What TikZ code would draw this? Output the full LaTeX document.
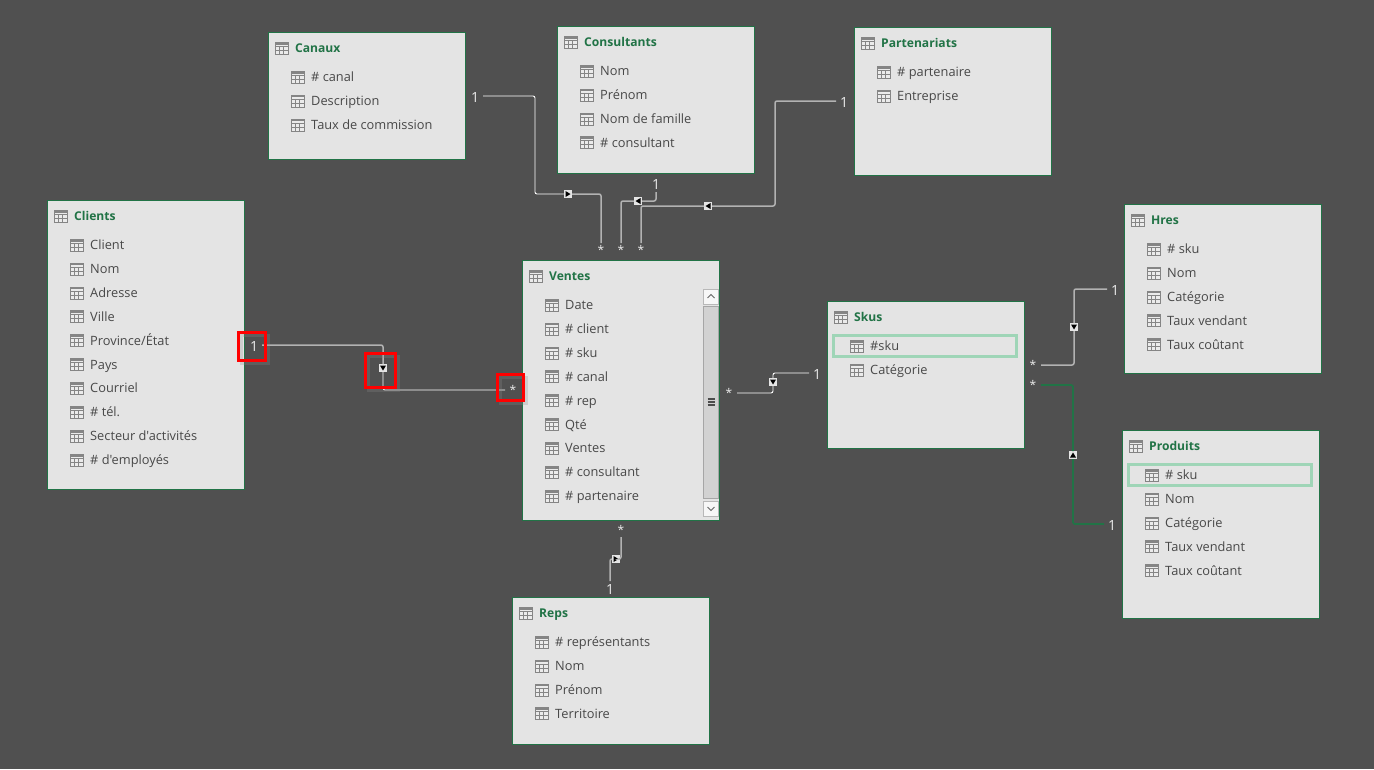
\documentclass[tikz,border=0pt]{standalone}
\usepackage{xcolor}
\usepackage{fontspec}
\setmainfont{Open Sans}
\newfontfamily\rowfont{Open Sans}
\usetikzlibrary{arrows.meta, positioning, shapes.geometric}

\definecolor{canvasgray}{HTML}{505050}
\definecolor{tablefill}{HTML}{E4E4E4}
\definecolor{excelgreen}{HTML}{217346}
\definecolor{keygreen}{HTML}{9FD5B7}
\definecolor{fieldtext}{HTML}{484848}
\definecolor{scrolltrack}{HTML}{D2D2D2}

% table frame, its title and its rows
\newcommand{\dbtable}[6]{
    \node[tablebox, minimum width=197pt, minimum height=#4pt+1pt] (#1) at (#2,#3) {};
    \node[tabletitle] (#1Title) at ([shift={(27,16)}]#1.north west) {#5};
    \foreach \fieldname [count=\i] in {#6} {
        \node[fieldrow] (#1Row\i) at ([shift={(43,{45+23.9*(\i-1)})}]#1.north west) {\fieldname};
    }
}

\begin{document}
\begin{tikzpicture}[
        x=1pt, y=-1pt,
        tablebox/.style={
            draw=excelgreen,
            line width=0.9pt,
            fill=tablefill,
            anchor=north west,
            xshift=-1pt,
            yshift=1pt,
            outer sep=0pt,
            inner sep=0pt
        },
        tabletitle/.style={
            anchor=west,
            inner sep=0pt,
            text=excelgreen,
            text height=12pt,
            text depth=3pt,
            font=\fontsize{12.1}{14}\selectfont\bfseries,
            append after command={(\tikzlastnode.west) pic {gridicon}}
        },
        fieldrow/.style={
            anchor=west,
            inner sep=0pt,
            text=fieldtext,
            text height=12pt,
            text depth=3pt,
            font=\fontsize{12.8}{14}\rowfont,
            append after command={(\tikzlastnode.west) pic {gridicon}}
        },
        gridicon/.pic={
            \fill[white!92!black] (-20,-6) rectangle (-7,6);
            \draw[black!48, line width=0.6pt] (-20,-6) rectangle (-7,6)
                (-20,-2) -- (-7,-2) (-20,2) -- (-7,2) (-15.7,-2) -- (-15.7,6) (-11.3,-2) -- (-11.3,6);
            \fill[black!48] (-20,-6) rectangle (-7,-3.5);
        },
        keyrow/.style={draw=keygreen, line width=3pt, minimum width=183pt, minimum height=21pt, inner sep=0pt},
        cardinal/.style={text=white!92!black, inner sep=0pt, outer sep=0pt, minimum width=16pt, minimum height=14pt,
            text height=13pt, text depth=0pt, font=\fontsize{14}{15}\selectfont},
        manycard/.style={cardinal, text height=9pt, font=\fontsize{12}{14}\selectfont},
        marker/.style={fill=white!90!black, inner sep=0pt, outer sep=0pt, minimum size=8pt,
            append after command={(\tikzlastnode.center) pic[rotate=#1] {markarrow}}},
        markarrow/.pic={\fill[black] (-3,-2.5) -- (3,-2.5) -- (0,2.5) -- cycle;},
        thinrel/.style={white, line width=0.9pt, rounded corners=2pt},
        thickrel/.style={white!70!black, line width=1.5pt, rounded corners=2pt},
        greenrel/.style={excelgreen, line width=1.8pt, rounded corners=2pt},
        redmark/.style={draw=red, line width=3pt, inner sep=0pt,
            preaction={draw=white!55!black, line width=3pt, opacity=0.25, transform canvas={shift={(3pt,-3pt)}}}},
        scrollbtn/.style={draw=black!28, fill=white!97!black, line width=0.9pt, inner sep=0pt, minimum width=15pt, minimum height=15pt},
        scrollmark/.style={black!60, line width=0.8pt}
    ]
    \fill[canvasgray] (0,0) rectangle (1374,769);

    \dbtable{clients}{48}{201}{288}{Clients}{Client,Nom,Adresse,Ville,Province/État,Pays,Courriel,\# tél.,Secteur d'activités,\# d'employés}
    \dbtable{canaux}{269}{33}{126}{Canaux}{\# canal,Description,Taux de commission}
    \dbtable{consultants}{558}{27}{146}{Consultants}{Nom,Prénom,Nom de famille,\# consultant}
    \dbtable{partenariats}{855}{28}{147}{Partenariats}{\# partenaire,Entreprise}
    \dbtable{ventes}{523}{261}{259}{Ventes}{Date,\# client,\# sku,\# canal,\# rep,Qté,Ventes,\# consultant,\# partenaire}
    \dbtable{hres}{1125}{205}{168}{Hres}{\# sku,Nom,Catégorie,Taux vendant,Taux coûtant}
    \dbtable{skus}{828}{302}{146}{Skus}{\#sku,Catégorie}
    \dbtable{produits}{1123}{431}{187}{Produits}{\# sku,Nom,Catégorie,Taux vendant,Taux coûtant}
    \dbtable{reps}{513}{598}{146}{Reps}{\# représentants,Nom,Prénom,Territoire}

    \node[keyrow] (skusKey) at (925,346) {};
    \node[keyrow] (produitsKey) at (1220,475) {};

    % scrollbar of Ventes
    \node[scrollbtn] (ventesUp) at (711,296.5) {};
    \node[scrollbtn, fill=scrolltrack, draw=black!35, minimum height=192pt] (ventesTrack) at (711,402) {};
    \node[scrollbtn] (ventesDown) at (711,508.5) {};
    \draw[scrollmark] ([shift={(-3.5,1.5)}]ventesUp.center) -- ([shift={(0,-2)}]ventesUp.center) -- ([shift={(3.5,1.5)}]ventesUp.center);
    \draw[scrollmark] ([shift={(-3.5,-1.5)}]ventesDown.center) -- ([shift={(0,2)}]ventesDown.center) -- ([shift={(3.5,-1.5)}]ventesDown.center);
    \draw[scrollmark, black!70, line width=1.2pt]
        ([shift={(-3.5,-3)}]ventesTrack.center) -- ++(7,0)
        ([shift={(-3.5,0)}]ventesTrack.center) -- ++(7,0)
        ([shift={(-3.5,3)}]ventesTrack.center) -- ++(7,0);

    % cardinalities and direction markers
    \node[cardinal] (clientsOne) at (254,345) {1};
    \node[marker=0] (clientsMark) at (383,368) {};
    \node[manycard] (clientsMany) at (513,390) {*};

    \node[cardinal] (canauxOne) at (475,96) {1};
    \node[marker=90] (canauxMark) at (568,194) {};
    \node[manycard] (canauxMany) at (601,250) {*};
    \coordinate (canauxBend) at (535,194);

    \node[cardinal] (consultantsOne) at (656,183) {1};
    \node[marker=-90] (consultantsMark) at (638,201) {};
    \node[manycard] (consultantsMany) at (621,250) {*};

    \node[cardinal] (partenariatsOne) at (844,101) {1};
    \node[marker=-90] (partenariatsMark) at (708,206) {};
    \node[manycard] (partenariatsMany) at (641,250) {*};
    \coordinate (partenariatsBend) at (775,206);

    \node[manycard] (skusMany) at (729,393) {*};
    \node[marker=0] (skusMark) at (773,382) {};
    \node[cardinal] (skusOne) at (817,373) {1};

    \node[manycard] (hresMany) at (1033,365) {*};
    \node[marker=0] (hresMark) at (1074,327) {};
    \node[cardinal] (hresOne) at (1115,289) {1};

    \node[manycard] (produitsMany) at (1033,385) {*};
    \node[marker=180] (produitsMark) at (1073,455) {};
    \node[cardinal] (produitsOne) at (1112,524) {1};

    \node[manycard] (repsMany) at (621,530) {*};
    \node[marker=90] (repsMark) at (616,559) {};
    \node[cardinal] (repsOne) at (610,588) {1};

    \draw[thickrel] (clientsOne.east) -| (clientsMark.north);
    \draw[thinrel] (clientsMark.south) |- (clientsMany.west);
    \draw[thinrel] (canauxOne.east) -| (canauxBend) -- (canauxMark.west);
    \draw[thickrel] (canauxMark.east) -| (canauxMany.north);
    \draw[thickrel] ([yshift=-2pt]consultantsOne.south) |- (consultantsMark.east);
    \draw[thickrel] (consultantsMark.west) -| (consultantsMany.north);
    \draw[thickrel] (partenariatsOne.west) -| (partenariatsBend) -- (partenariatsMark.east);
    \draw[thickrel] (partenariatsMark.west) -| (partenariatsMany.north);
    \draw[thinrel] (skusMany.east) -| (skusMark.south);
    \draw[thinrel] (skusMark.north) |- (skusOne.west);
    \draw[thickrel] (hresMany.east) -| (hresMark.south);
    \draw[thickrel] (hresMark.north) |- (hresOne.west);
    \draw[greenrel] (produitsMany.east) -| (produitsMark.north);
    \draw[greenrel] (produitsMark.south) |- (produitsOne.west);
    \draw[thickrel] (repsMany.south) |- (repsMark.east);
    \draw[thickrel] (repsMark.west) -| (repsOne.north);

    % red highlight boxes
    \node[redmark, minimum width=27pt, minimum height=28pt] (clientsOneBox) at (252,346.5) {};
    \node[redmark, minimum width=30pt, minimum height=34pt] (clientsMarkBox) at (380.5,370.5) {};
    \node[redmark, minimum width=26pt, minimum height=26pt] (clientsManyBox) at (510.5,387.5) {};
\end{tikzpicture}
\end{document}
